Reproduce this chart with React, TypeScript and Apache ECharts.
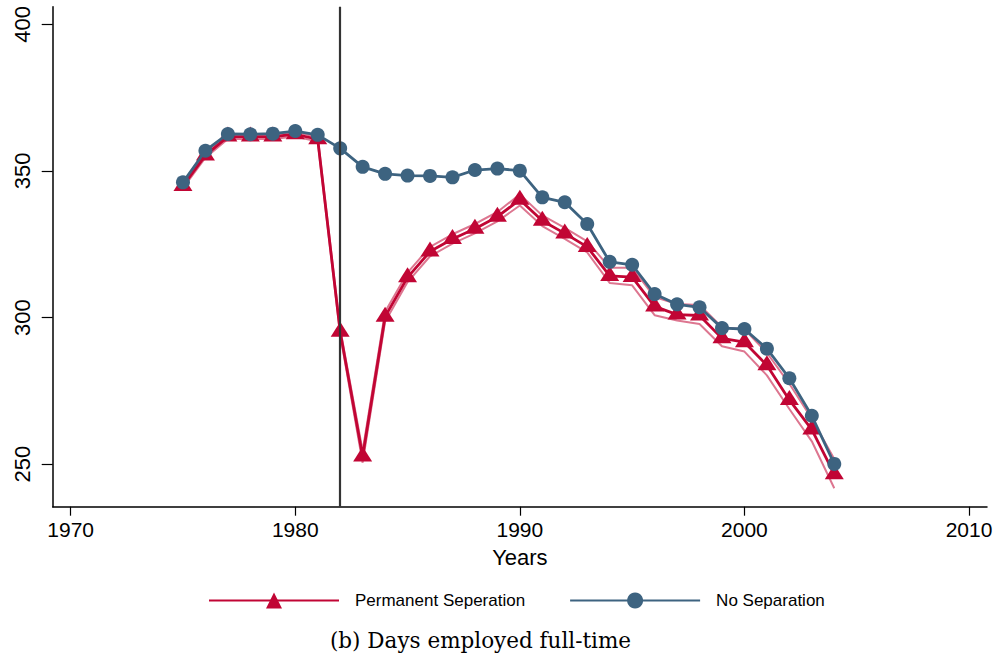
import React, { useEffect, useRef } from "react";
import * as echarts from "echarts";

const years = [1975,1976,1977,1978,1979,1980,1981,1982,1983,1984,1985,1986,1987,1988,1989,1990,1991,1992,1993,1994,1995,1996,1997,1998,1999,2000,2001,2002,2003,2004];

const noSeparation = [346.1,356.9,362.6,362.5,362.7,363.6,362.3,357.7,351.4,349.0,348.4,348.3,347.8,350.3,350.8,350.1,341.0,339.3,331.9,319.0,318.0,308.0,304.5,303.5,296.4,296.1,289.4,279.3,266.5,250.1];

const permanentSep = [344.9,355.3,361.7,361.7,361.7,362.5,360.8,295.2,252.6,300.3,313.7,322.5,326.8,330.3,334.4,340.2,333.0,328.7,324.1,314.2,313.8,303.8,301.0,300.7,292.9,291.6,283.7,271.9,261.8,246.6];

const permUpper = [345.7,356.1,362.5,362.5,362.5,363.3,361.6,296.2,254.5,302.0,315.3,324.1,328.4,331.9,336.0,342.0,334.8,330.6,326.0,317.0,317.0,307.0,304.6,304.3,296.7,296.0,288.0,277.4,265.5,251.8];

const permLower = [344.1,354.5,360.9,360.9,360.9,361.7,360.0,294.2,250.5,298.6,312.1,320.9,325.2,328.7,332.8,338.2,331.2,326.8,322.2,311.8,311.0,300.8,299.0,297.8,290.2,288.4,280.3,268.8,257.8,241.8];

const xTicks = [1970, 1980, 1990, 2000, 2010];
const yTicks = [250, 300, 350, 400];
const eventYear = 1982;

const RED = "#C10534";
const BLUE = "#3D6380";
const PINK = "rgba(193,5,52,0.55)";

const pairs = (vals: number[]) => years.map((y, i) => [y, vals[i]]);

export default function App() {
  const ref = useRef<HTMLDivElement>(null);
  useEffect(() => {
    if (!ref.current) return;
    const chart = echarts.init(ref.current, undefined, { renderer: "svg" });
    const sans = "Liberation Sans";
    chart.setOption({
      animation: false,
      backgroundColor: "#fff",
      grid: {
        left: 52.7,
        right: 10,
        top: 6.7,
        bottom: 155.3,
        containLabel: false,
        outerBoundsMode: "none",
      },
      xAxis: {
        type: "value",
        min: 1969.2,
        max: 2010.8,
        splitLine: { show: false },
        axisLine: { lineStyle: { color: "#000", width: 1.5 } },
        axisTick: { customValues: xTicks, length: 9, lineStyle: { color: "#000", width: 1.2 } },
        axisLabel: {
          customValues: xTicks,
          fontSize: 21,
          color: "#000",
          margin: 12,
          fontFamily: sans,
          formatter: (v: number) => String(Math.round(v)),
        },
        name: "Years",
        nameLocation: "middle",
        nameGap: 40,
        nameTextStyle: { fontSize: 22, color: "#000", fontFamily: sans },
      },
      yAxis: {
        type: "value",
        min: 235.5,
        max: 406,
        splitLine: { show: false },
        axisLine: { show: true, lineStyle: { color: "#000", width: 1.5 } },
        axisTick: { show: true, customValues: yTicks, length: 11, lineStyle: { color: "#000", width: 1.2 } },
        axisLabel: {
          customValues: yTicks,
          fontSize: 22,
          color: "#000",
          margin: 19,
          rotate: 90,
          fontFamily: sans,
          formatter: (v: number) => String(Math.round(v)),
        },
      },
      legend: {
        left: 208,
        top: 592,
        padding: 0,
        itemWidth: 130,
        itemHeight: 20,
        itemGap: 44,
        data: ["Permanent Seperation", "No Separation"],
        textStyle: { fontSize: 17, color: "#000", fontFamily: sans, padding: [0, 0, 0, 11] },
      },
      graphic: [
        {
          type: "text",
          x: 480.5,
          y: 640,
          style: {
            text: "(b) Days employed full-time",
            font: "21.5px 'DejaVu Serif'",
            fill: "#000",
            align: "center",
            verticalAlign: "middle",
          },
        },
      ],
      series: [
        {
          name: "event",
          type: "line",
          data: [],
          z: 1,
          markLine: {
            silent: true,
            symbol: ["none", "none"],
            label: { show: false },
            lineStyle: { color: "#333", width: 2.2, type: "solid" },
            data: [{ xAxis: eventYear }],
          },
        },
        {
          name: "upper",
          type: "line",
          data: pairs(permUpper),
          showSymbol: false,
          symbol: "none",
          lineStyle: { color: PINK, width: 2 },
          z: 2,
        },
        {
          name: "lower",
          type: "line",
          data: pairs(permLower),
          showSymbol: false,
          symbol: "none",
          lineStyle: { color: PINK, width: 2 },
          z: 2,
        },
        {
          name: "Permanent Seperation",
          type: "line",
          data: pairs(permanentSep),
          symbol: "triangle",
          symbolSize: [19, 15],
          symbolOffset: [0, -2.5],
          color: RED,
          itemStyle: { color: RED },
          lineStyle: { color: RED, width: 2.8 },
          z: 3,
        },
        {
          name: "No Separation",
          type: "line",
          data: pairs(noSeparation),
          symbol: "circle",
          symbolSize: 14,
          color: BLUE,
          itemStyle: { color: BLUE },
          lineStyle: { color: BLUE, width: 2.8 },
          z: 4,
        },
      ],
    });
    return () => chart.dispose();
  }, []);
  return (
    <div
      ref={ref}
      style={{ position: "fixed", left: 0, top: 0, width: 997, height: 662, background: "#fff" }}
    />
  );
}
